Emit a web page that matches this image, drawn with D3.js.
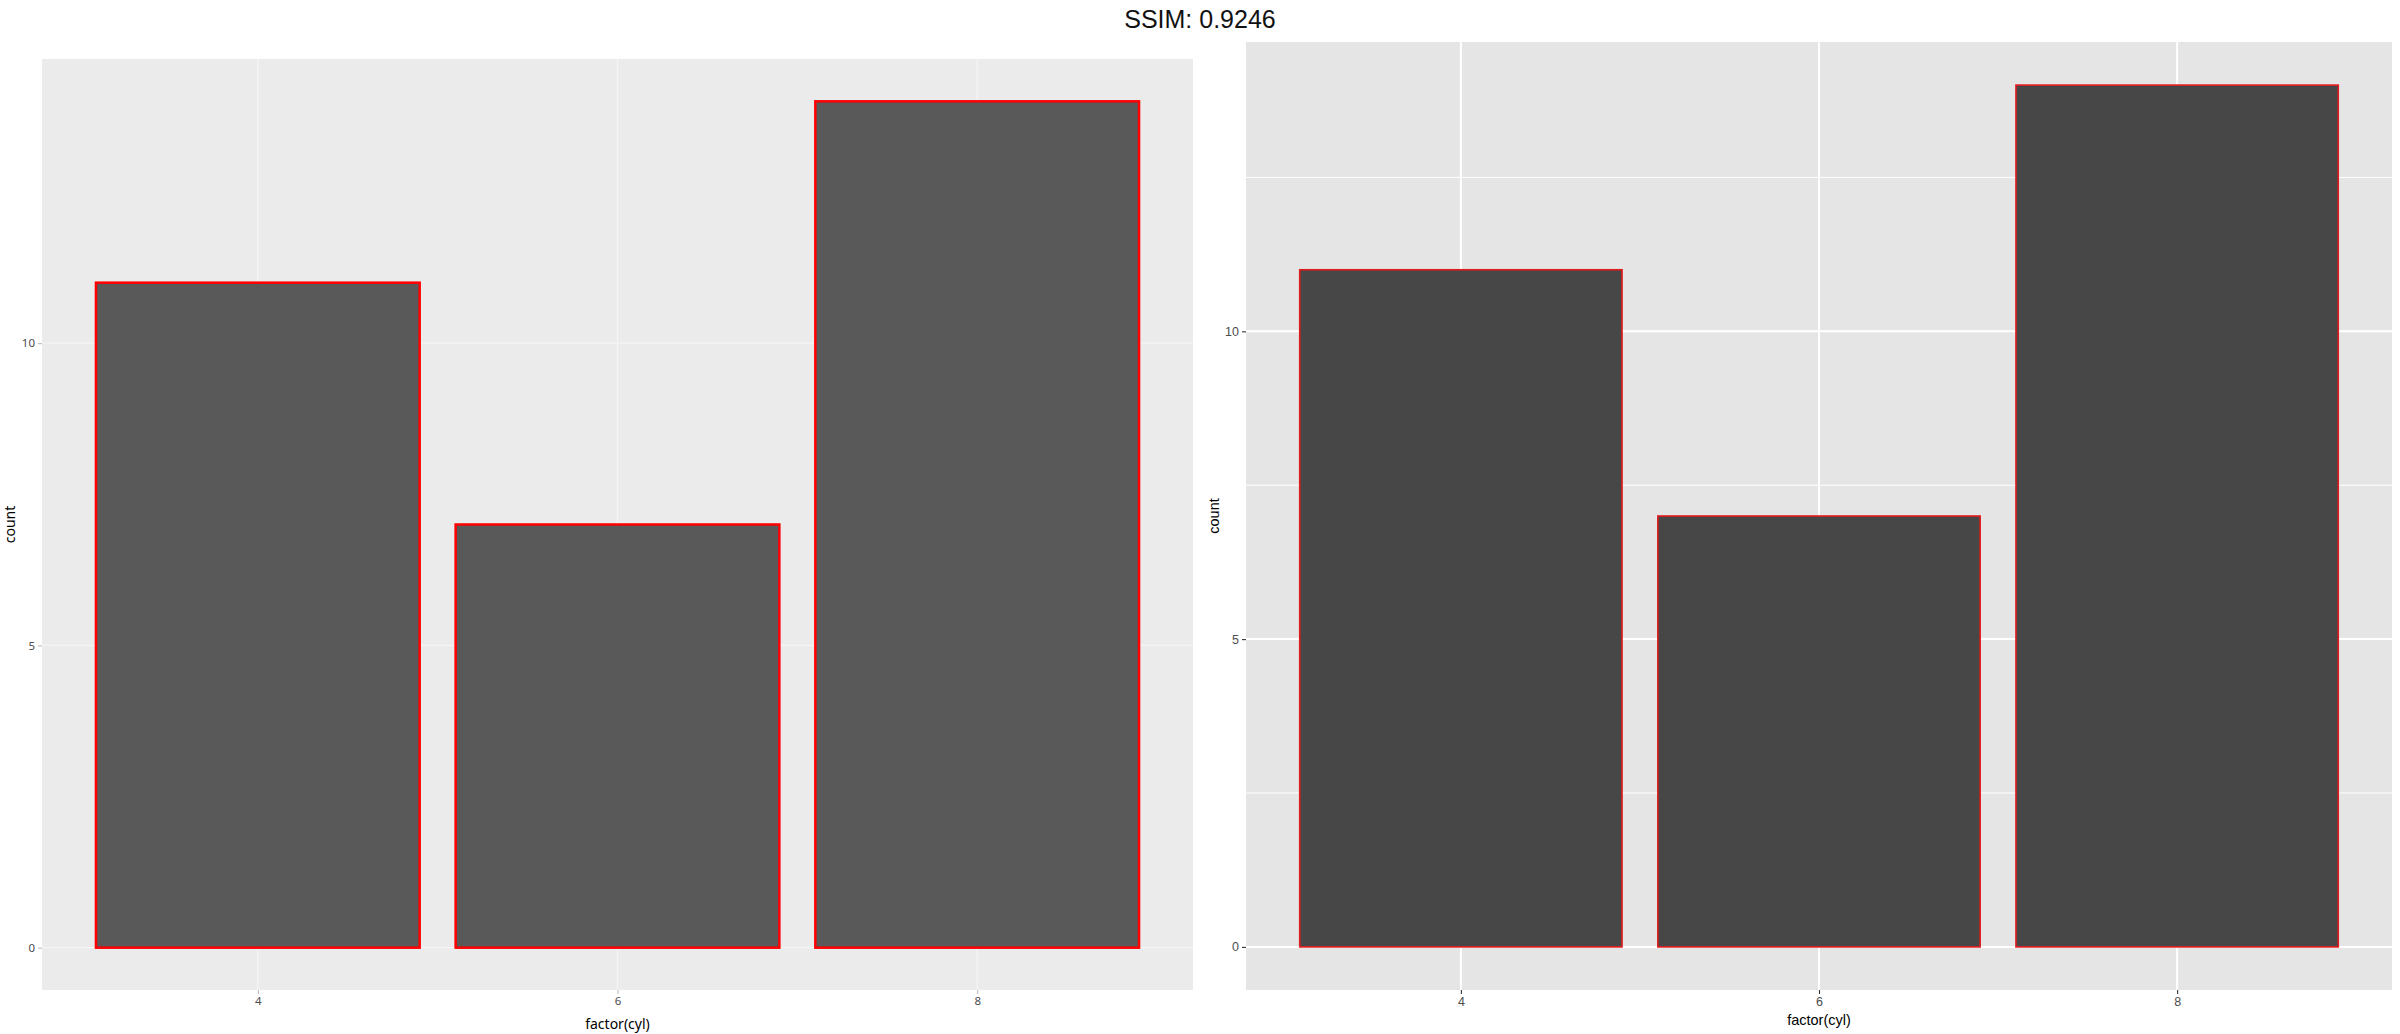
<!DOCTYPE html>
<html>
<head>
<meta charset="utf-8">
<script src="https://cdn.jsdelivr.net/npm/d3@7"></script>
<style>
  html, body { margin: 0; padding: 0; background: #fff; }
  svg { display: block; }
</style>
</head>
<body>
<svg id="chart" width="2400" height="1034"></svg>
<script>
const title = "SSIM: 0.9246";
const categories = ["4", "6", "8"];
const counts = [11, 7, 14];
const yTicks = [0, 5, 10];
const yMinorTicks = [2.5, 7.5, 12.5];
const xTitle = "factor(cyl)";
const yTitle = "count";

const svg = d3.select("#chart");

svg.append("text")
  .attr("x", 1200).attr("y", 28)
  .attr("text-anchor", "middle")
  .attr("font-family", "Liberation Sans, Arial, sans-serif")
  .attr("font-size", 25)
  .attr("fill", "#111")
  .text(title);

const data = categories.map((c, i) => ({cat: c, n: counts[i]}));

function panel(opt) {
  const g = svg.append("g");
  const x = d3.scaleLinear().domain([0.4, categories.length + 0.6]).range([opt.x0, opt.x1]);
  const maxV = d3.max(counts);
  const pad = maxV * 0.05;
  const y = d3.scaleLinear().domain([-pad, maxV + pad]).range([opt.y1, opt.y0]);

  g.append("rect")
    .attr("x", opt.x0).attr("y", opt.y0)
    .attr("width", opt.x1 - opt.x0).attr("height", opt.y1 - opt.y0)
    .attr("fill", opt.bg);

  if (opt.minor) {
    g.selectAll(".ymin").data(yMinorTicks).join("line")
      .attr("x1", opt.x0).attr("x2", opt.x1)
      .attr("y1", d => y(d)).attr("y2", d => y(d))
      .attr("stroke", opt.grid).attr("stroke-width", opt.minorW);
  }
  g.selectAll(".ymaj").data(yTicks).join("line")
    .attr("x1", opt.x0).attr("x2", opt.x1)
    .attr("y1", d => y(d)).attr("y2", d => y(d))
    .attr("stroke", opt.grid).attr("stroke-width", opt.majorW);
  g.selectAll(".xmaj").data(categories).join("line")
    .attr("x1", (d, i) => x(i + 1)).attr("x2", (d, i) => x(i + 1))
    .attr("y1", opt.y0).attr("y2", opt.y1)
    .attr("stroke", opt.grid).attr("stroke-width", opt.majorW);

  g.selectAll(".bar").data(data).join("rect")
    .attr("x", (d, i) => x(i + 1 - 0.45))
    .attr("width", x(1.45) - x(0.55))
    .attr("y", d => y(d.n))
    .attr("height", d => y(0) - y(d.n))
    .attr("fill", opt.barFill)
    .attr("stroke", opt.barStroke)
    .attr("stroke-width", opt.barStrokeW);

  // y axis ticks and labels
  const yAxis = d3.axisLeft(y).tickValues(yTicks).tickSize(4).tickPadding(3);
  const ya = g.append("g").attr("transform", `translate(${opt.x0},0)`).call(yAxis);
  ya.select(".domain").remove();
  ya.selectAll(".tick line").attr("stroke", opt.tickCol).attr("stroke-width", 1.1);
  ya.selectAll(".tick text")
    .attr("font-family", opt.font).attr("font-size", opt.tickSize).attr("fill", opt.tickText);

  const xAxis = d3.axisBottom(x).tickValues(categories.map((c, i) => i + 1))
    .tickFormat((d, i) => categories[i]).tickSize(4).tickPadding(3);
  const xa = g.append("g").attr("transform", `translate(0,${opt.y1})`).call(xAxis);
  xa.select(".domain").remove();
  xa.selectAll(".tick line").attr("stroke", opt.tickCol).attr("stroke-width", 1.1);
  xa.selectAll(".tick text")
    .attr("font-family", opt.font).attr("font-size", opt.tickSize).attr("fill", opt.tickText);

  g.append("text")
    .attr("x", (opt.x0 + opt.x1) / 2).attr("y", opt.xTitleY)
    .attr("text-anchor", "middle")
    .attr("font-family", opt.font).attr("font-size", opt.titleSize).attr("fill", "#000")
    .text(xTitle);
  g.append("text")
    .attr("transform", `translate(${opt.yTitleX},${(opt.y0 + opt.y1) / 2}) rotate(-90)`)
    .attr("text-anchor", "middle")
    .attr("font-family", opt.font).attr("font-size", opt.titleSize).attr("fill", "#000")
    .text(yTitle);
}

panel({
  x0: 42, x1: 1193, y0: 59, y1: 990,
  bg: "#EBEBEB", grid: "#F5F5F5", majorW: 1.2, minorW: 0, minor: false,
  barFill: "#595959", barStroke: "#FF0000", barStrokeW: 2.5,
  tickCol: "#BBBBBB", tickText: "#4D4D4D", tickSize: 11.5,
  font: "Noto Sans, Open Sans, sans-serif", titleSize: 14,
  xTitleY: 1029, yTitleX: 15
});

panel({
  x0: 1246, x1: 2392, y0: 42, y1: 990,
  bg: "#E5E5E5", grid: "#FFFFFF", majorW: 2, minorW: 1, minor: true,
  barFill: "#474747", barStroke: "#E31A1C", barStrokeW: 1.6,
  tickCol: "#333333", tickText: "#4D4D4D", tickSize: 12.5,
  font: "Liberation Sans, Arial, sans-serif", titleSize: 14.5,
  xTitleY: 1025, yTitleX: 1219
});
</script>
</body>
</html>
